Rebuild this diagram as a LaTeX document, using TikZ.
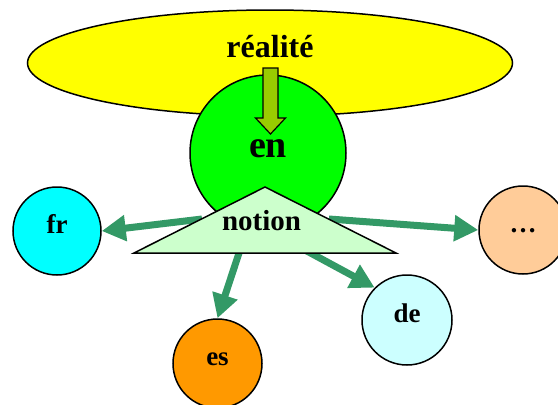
\documentclass[tikz,border=0pt]{standalone}
\usepackage{fontspec}
\setmainfont{Liberation Serif}
\usetikzlibrary{arrows.meta,shapes.geometric}

\definecolor{realyellow}{HTML}{FFFF00}
\definecolor{engreen}{HTML}{00FF00}
\definecolor{notiongreen}{HTML}{CCFFCC}
\definecolor{olivearrow}{HTML}{99CC00}
\definecolor{linkgreen}{HTML}{339966}
\definecolor{frcyan}{HTML}{00FFFF}
\definecolor{escolor}{HTML}{FF9900}
\definecolor{decolor}{HTML}{CCFFFF}
\definecolor{morecolor}{HTML}{FFCC99}

\begin{document}
\begin{tikzpicture}[x=1pt,y=1pt,line width=1.5pt,
  lang/.style={circle,draw,minimum size=88pt,inner sep=0pt,text height=18pt,text depth=14pt,
    font=\fontsize{27}{30}\selectfont\bfseries},
  link/.style={draw=linkgreen,line width=7pt,-{Triangle[length=24pt,width=25pt]}}]
\useasboundingbox (0,-405) rectangle (558,0);

\node[ellipse,draw,fill=realyellow,minimum width=485pt,minimum height=106pt,inner sep=0pt,
  text height=22pt,text depth=34pt,font=\fontsize{32}{34}\selectfont\bfseries] (realite) at (270,-63) {réalité};
\node[circle,draw,fill=engreen,minimum size=156pt,inner sep=0pt,text height=18pt,text depth=10pt,
  font=\fontsize{38}{40}\selectfont\bfseries] (en) at (268,-153) {en};

% block arrow from the reality into the language
\coordinate (down) at (270.5,-68);
\filldraw[fill=olivearrow,line width=1.2pt] (down) ++(-7.5,0) -- ++(15,0) -- ++(0,-50) -- ++(7.5,0)
  -- ++(-15,-16) -- ++(-15,16) -- ++(7.5,0) -- cycle;

\node[lang,fill=frcyan] (fr) at (57,-231) {fr};
\node[lang,fill=morecolor] (more) at (523,-230) {\dots};
\node[lang,fill=decolor,minimum size=90pt] (de) at (407,-320) {de};
\node[lang,fill=escolor,minimum size=89pt] (es) at (217.5,-363.5) {es};

\coordinate (tofr) at (202,-219);
\coordinate (tomore) at (329,-219);
\coordinate (toes) at (240,-250);
\coordinate (tode) at (305,-250);
\draw[link] (tofr) -- (fr.east);
\draw[link] (tomore) -- (more.west);
\draw[link] (toes) -- (es.north);
\draw[link] (tode) -- (de.north west);

\filldraw[fill=notiongreen] (134,-253) -- (265,-187) -- (396,-253) -- cycle;
\node[anchor=base,inner sep=0pt,font=\fontsize{29}{31}\selectfont\bfseries] (notion) at (261.5,-230) {notion};
\end{tikzpicture}
\end{document}
